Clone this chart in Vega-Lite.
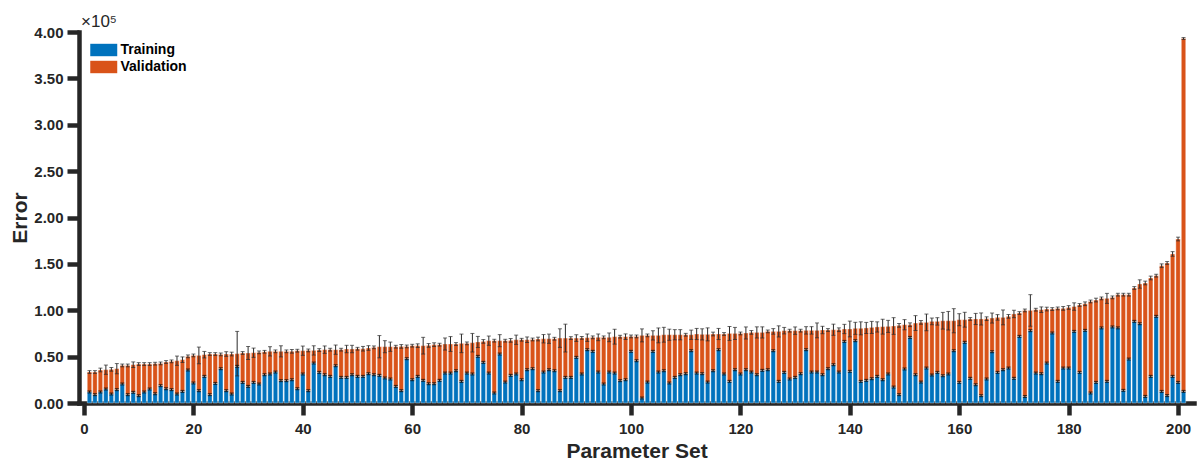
{
"$schema": "https://vega.github.io/schema/vega-lite/v6.json",
"width": 1115, "height": 371,
"autosize": {"type": "none"},
"padding": {"left": 79, "top": 32, "right": 4, "bottom": 61},
"background": "white",
"title": {"text": "×10⁵", "anchor": "start", "frame": "group", "font": "Liberation Sans", "fontSize": 17, "fontWeight": "normal", "color": "#262626", "offset": -6, "dx": 2},
"config": {
  "view": {"stroke": null},
  "axis": {"grid": false, "domainColor": "#262626", "domainWidth": 4.5, "domainCap": "square", "tickColor": "#262626", "tickWidth": 4.5, "tickSize": 12, "labelFont": "Liberation Sans", "labelFontSize": 15, "labelFontWeight": "bold", "labelColor": "#262626", "titleFont": "Liberation Sans", "titleFontSize": 21, "titleFontWeight": "bold", "titleColor": "#262626"},
  "axisX": {"labelPadding": 6, "titlePadding": 4},
  "axisY": {"labelPadding": 4, "titlePadding": 3}
},
"data": {"values": [
{"set":1,"train":11900,"total":33400,"trainErr":1000,"totalErr":1500},
{"set":2,"train":9000,"total":33400,"trainErr":1000,"totalErr":1500},
{"set":3,"train":11900,"total":35600,"trainErr":1000,"totalErr":2000},
{"set":4,"train":15100,"total":35900,"trainErr":1000,"totalErr":5000},
{"set":5,"train":9700,"total":36300,"trainErr":1000,"totalErr":2000},
{"set":6,"train":14400,"total":37000,"trainErr":1000,"totalErr":5500},
{"set":7,"train":20500,"total":40500,"trainErr":1000,"totalErr":1500},
{"set":8,"train":9000,"total":40500,"trainErr":1000,"totalErr":1500},
{"set":9,"train":11500,"total":41300,"trainErr":1000,"totalErr":3000},
{"set":10,"train":7900,"total":42000,"trainErr":1000,"totalErr":1500},
{"set":11,"train":11900,"total":42000,"trainErr":1000,"totalErr":1500},
{"set":12,"train":15100,"total":42000,"trainErr":1000,"totalErr":1500},
{"set":13,"train":10000,"total":42400,"trainErr":1000,"totalErr":1500},
{"set":14,"train":18700,"total":42700,"trainErr":1000,"totalErr":1500},
{"set":15,"train":15400,"total":44200,"trainErr":1000,"totalErr":1500},
{"set":16,"train":14400,"total":44900,"trainErr":1000,"totalErr":1500},
{"set":17,"train":9700,"total":45600,"trainErr":1000,"totalErr":5000},
{"set":18,"train":12500,"total":46700,"trainErr":1000,"totalErr":3000},
{"set":19,"train":35600,"total":50300,"trainErr":1000,"totalErr":1500},
{"set":20,"train":21600,"total":51300,"trainErr":1000,"totalErr":1500},
{"set":21,"train":13300,"total":51300,"trainErr":1000,"totalErr":9000},
{"set":22,"train":28700,"total":52100,"trainErr":1000,"totalErr":3500},
{"set":23,"train":9000,"total":52800,"trainErr":1000,"totalErr":1500},
{"set":24,"train":21100,"total":52800,"trainErr":1000,"totalErr":1500},
{"set":25,"train":37000,"total":52400,"trainErr":1000,"totalErr":1500},
{"set":26,"train":13300,"total":52800,"trainErr":1000,"totalErr":2500},
{"set":27,"train":9700,"total":52800,"trainErr":1000,"totalErr":2000},
{"set":28,"train":39500,"total":53200,"trainErr":1000,"totalErr":24000},
{"set":29,"train":22200,"total":53900,"trainErr":1000,"totalErr":1500},
{"set":30,"train":17900,"total":53900,"trainErr":1000,"totalErr":7000},
{"set":31,"train":22200,"total":54200,"trainErr":1000,"totalErr":5000},
{"set":32,"train":20500,"total":54600,"trainErr":1000,"totalErr":1500},
{"set":33,"train":30500,"total":55200,"trainErr":1000,"totalErr":1500},
{"set":34,"train":31300,"total":55700,"trainErr":1000,"totalErr":5000},
{"set":35,"train":33400,"total":55700,"trainErr":1000,"totalErr":1500},
{"set":36,"train":24100,"total":55700,"trainErr":1000,"totalErr":6000},
{"set":37,"train":24100,"total":55700,"trainErr":1000,"totalErr":1500},
{"set":38,"train":25100,"total":55700,"trainErr":1000,"totalErr":2000},
{"set":39,"train":15400,"total":56400,"trainErr":1000,"totalErr":1500},
{"set":40,"train":31300,"total":56400,"trainErr":1000,"totalErr":5000},
{"set":41,"train":13300,"total":56700,"trainErr":1000,"totalErr":1500},
{"set":42,"train":43100,"total":56700,"trainErr":1000,"totalErr":5000},
{"set":43,"train":33000,"total":57100,"trainErr":1000,"totalErr":1500},
{"set":44,"train":30500,"total":57500,"trainErr":1000,"totalErr":4000},
{"set":45,"train":28700,"total":57500,"trainErr":1000,"totalErr":1500},
{"set":46,"train":40200,"total":57500,"trainErr":1000,"totalErr":5000},
{"set":47,"train":27600,"total":57500,"trainErr":1000,"totalErr":1500},
{"set":48,"train":27600,"total":58200,"trainErr":1000,"totalErr":4000},
{"set":49,"train":30500,"total":58200,"trainErr":1000,"totalErr":4000},
{"set":50,"train":28700,"total":58500,"trainErr":1000,"totalErr":1500},
{"set":51,"train":28700,"total":58500,"trainErr":1000,"totalErr":2500},
{"set":52,"train":31600,"total":59300,"trainErr":1000,"totalErr":2500},
{"set":53,"train":30500,"total":60000,"trainErr":1000,"totalErr":1500},
{"set":54,"train":29800,"total":60700,"trainErr":1000,"totalErr":12000},
{"set":55,"train":27000,"total":60700,"trainErr":1000,"totalErr":6500},
{"set":56,"train":25900,"total":60700,"trainErr":1000,"totalErr":5000},
{"set":57,"train":17900,"total":60700,"trainErr":1000,"totalErr":1500},
{"set":58,"train":13300,"total":61000,"trainErr":1000,"totalErr":2000},
{"set":59,"train":47800,"total":61000,"trainErr":1000,"totalErr":1500},
{"set":60,"train":25100,"total":61800,"trainErr":1000,"totalErr":1500},
{"set":61,"train":28700,"total":61800,"trainErr":1000,"totalErr":2000},
{"set":62,"train":24400,"total":61800,"trainErr":1000,"totalErr":9000},
{"set":63,"train":20800,"total":62100,"trainErr":1000,"totalErr":2000},
{"set":64,"train":20800,"total":62900,"trainErr":1000,"totalErr":2000},
{"set":65,"train":24400,"total":62900,"trainErr":1000,"totalErr":1500},
{"set":66,"train":32300,"total":63600,"trainErr":1000,"totalErr":6500},
{"set":67,"train":32300,"total":63600,"trainErr":1000,"totalErr":8000},
{"set":68,"train":34800,"total":63600,"trainErr":1000,"totalErr":1500},
{"set":69,"train":23300,"total":64300,"trainErr":1000,"totalErr":10000},
{"set":70,"train":32300,"total":64300,"trainErr":1000,"totalErr":1500},
{"set":71,"train":31300,"total":65000,"trainErr":1000,"totalErr":10000},
{"set":72,"train":50300,"total":65800,"trainErr":1000,"totalErr":6000},
{"set":73,"train":43800,"total":66400,"trainErr":1000,"totalErr":2000},
{"set":74,"train":32300,"total":67200,"trainErr":1000,"totalErr":5000},
{"set":75,"train":10800,"total":67200,"trainErr":1000,"totalErr":1500},
{"set":76,"train":52800,"total":67200,"trainErr":1000,"totalErr":6500},
{"set":77,"train":22600,"total":67200,"trainErr":1000,"totalErr":1500},
{"set":78,"train":29800,"total":67500,"trainErr":1000,"totalErr":2000},
{"set":79,"train":31300,"total":68200,"trainErr":1000,"totalErr":5000},
{"set":80,"train":25100,"total":68200,"trainErr":1000,"totalErr":1500},
{"set":81,"train":35900,"total":68200,"trainErr":1000,"totalErr":3000},
{"set":82,"train":37000,"total":68500,"trainErr":1000,"totalErr":1500},
{"set":83,"train":13300,"total":69000,"trainErr":1000,"totalErr":2000},
{"set":84,"train":33400,"total":69300,"trainErr":1000,"totalErr":4500},
{"set":85,"train":35900,"total":69300,"trainErr":1000,"totalErr":5000},
{"set":86,"train":34800,"total":69300,"trainErr":1000,"totalErr":1500},
{"set":87,"train":13300,"total":70000,"trainErr":1000,"totalErr":10000},
{"set":88,"train":27600,"total":70000,"trainErr":1000,"totalErr":15000},
{"set":89,"train":27600,"total":70000,"trainErr":1000,"totalErr":1500},
{"set":90,"train":49200,"total":70000,"trainErr":1000,"totalErr":3600},
{"set":91,"train":31300,"total":70200,"trainErr":1000,"totalErr":1500},
{"set":92,"train":57500,"total":70400,"trainErr":1000,"totalErr":4000},
{"set":93,"train":55700,"total":70800,"trainErr":1000,"totalErr":1500},
{"set":94,"train":33400,"total":70800,"trainErr":1000,"totalErr":3600},
{"set":95,"train":20500,"total":70800,"trainErr":1000,"totalErr":1500},
{"set":96,"train":33400,"total":70800,"trainErr":1000,"totalErr":4700},
{"set":97,"train":32300,"total":71500,"trainErr":1000,"totalErr":8000},
{"set":98,"train":24100,"total":71500,"trainErr":1000,"totalErr":1500},
{"set":99,"train":25100,"total":71500,"trainErr":1000,"totalErr":3000},
{"set":100,"train":55700,"total":71800,"trainErr":1000,"totalErr":1500},
{"set":101,"train":45600,"total":71800,"trainErr":1000,"totalErr":1500},
{"set":102,"train":5400,"total":72900,"trainErr":1000,"totalErr":7000},
{"set":103,"train":22600,"total":72900,"trainErr":1000,"totalErr":1500},
{"set":104,"train":55700,"total":72900,"trainErr":1000,"totalErr":5000},
{"set":105,"train":33400,"total":72900,"trainErr":1000,"totalErr":8000},
{"set":106,"train":34800,"total":73600,"trainErr":1000,"totalErr":8000},
{"set":107,"train":21600,"total":73600,"trainErr":1000,"totalErr":6000},
{"set":108,"train":27600,"total":73600,"trainErr":1000,"totalErr":5500},
{"set":109,"train":30500,"total":73600,"trainErr":1000,"totalErr":5500},
{"set":110,"train":31600,"total":73600,"trainErr":1000,"totalErr":1500},
{"set":111,"train":56400,"total":73600,"trainErr":1000,"totalErr":5000},
{"set":112,"train":32300,"total":74400,"trainErr":1000,"totalErr":6000},
{"set":113,"train":31600,"total":74000,"trainErr":1000,"totalErr":6000},
{"set":114,"train":22600,"total":74000,"trainErr":1000,"totalErr":7000},
{"set":115,"train":34800,"total":74400,"trainErr":1000,"totalErr":2000},
{"set":116,"train":57500,"total":74400,"trainErr":1000,"totalErr":6000},
{"set":117,"train":31300,"total":74400,"trainErr":1000,"totalErr":1500},
{"set":118,"train":23300,"total":75000,"trainErr":1000,"totalErr":7500},
{"set":119,"train":35900,"total":75000,"trainErr":1000,"totalErr":6500},
{"set":120,"train":31300,"total":75000,"trainErr":1000,"totalErr":1500},
{"set":121,"train":35900,"total":75500,"trainErr":1000,"totalErr":6500},
{"set":122,"train":33400,"total":76100,"trainErr":1000,"totalErr":2000},
{"set":123,"train":30500,"total":76100,"trainErr":1000,"totalErr":6000},
{"set":124,"train":35200,"total":76100,"trainErr":1000,"totalErr":6000},
{"set":125,"train":35900,"total":77200,"trainErr":1000,"totalErr":1500},
{"set":126,"train":56400,"total":77200,"trainErr":1000,"totalErr":3000},
{"set":127,"train":23300,"total":77200,"trainErr":1000,"totalErr":6000},
{"set":128,"train":33000,"total":78000,"trainErr":1000,"totalErr":3500},
{"set":129,"train":25900,"total":78000,"trainErr":1000,"totalErr":1500},
{"set":130,"train":27600,"total":78000,"trainErr":1000,"totalErr":4000},
{"set":131,"train":31600,"total":78000,"trainErr":1000,"totalErr":1500},
{"set":132,"train":57500,"total":78300,"trainErr":1000,"totalErr":4000},
{"set":133,"train":33400,"total":78300,"trainErr":1000,"totalErr":4000},
{"set":134,"train":33400,"total":78300,"trainErr":1000,"totalErr":8000},
{"set":135,"train":30500,"total":78700,"trainErr":1000,"totalErr":4000},
{"set":136,"train":37000,"total":78700,"trainErr":1000,"totalErr":1500},
{"set":137,"train":41300,"total":79000,"trainErr":1000,"totalErr":6000},
{"set":138,"train":33400,"total":79000,"trainErr":1000,"totalErr":2000},
{"set":139,"train":66400,"total":79800,"trainErr":1000,"totalErr":5000},
{"set":140,"train":34100,"total":79800,"trainErr":1000,"totalErr":8500},
{"set":141,"train":67200,"total":80500,"trainErr":1000,"totalErr":6500},
{"set":142,"train":23300,"total":80500,"trainErr":1000,"totalErr":7000},
{"set":143,"train":24400,"total":80900,"trainErr":1000,"totalErr":6000},
{"set":144,"train":26200,"total":81500,"trainErr":1000,"totalErr":6500},
{"set":145,"train":28700,"total":82000,"trainErr":1000,"totalErr":5500},
{"set":146,"train":25100,"total":82300,"trainErr":1000,"totalErr":8000},
{"set":147,"train":31300,"total":82600,"trainErr":1000,"totalErr":6500},
{"set":148,"train":17200,"total":83000,"trainErr":1000,"totalErr":9000},
{"set":149,"train":9000,"total":83700,"trainErr":1000,"totalErr":2000},
{"set":150,"train":36700,"total":84400,"trainErr":1000,"totalErr":5500},
{"set":151,"train":70700,"total":84400,"trainErr":1000,"totalErr":2000},
{"set":152,"train":30500,"total":86200,"trainErr":1000,"totalErr":8000},
{"set":153,"train":22600,"total":86900,"trainErr":1000,"totalErr":2000},
{"set":154,"train":37700,"total":86900,"trainErr":1000,"totalErr":9000},
{"set":155,"train":30200,"total":88000,"trainErr":1000,"totalErr":3600},
{"set":156,"train":33000,"total":88000,"trainErr":1000,"totalErr":4000},
{"set":157,"train":29400,"total":88700,"trainErr":1000,"totalErr":9000},
{"set":158,"train":31300,"total":88700,"trainErr":1000,"totalErr":10000},
{"set":159,"train":56400,"total":88700,"trainErr":1000,"totalErr":13000},
{"set":160,"train":22200,"total":89800,"trainErr":1000,"totalErr":6500},
{"set":161,"train":65400,"total":89800,"trainErr":1000,"totalErr":8000},
{"set":162,"train":26600,"total":90600,"trainErr":1000,"totalErr":1500},
{"set":163,"train":19700,"total":90600,"trainErr":1000,"totalErr":6000},
{"set":164,"train":7900,"total":90600,"trainErr":1000,"totalErr":6500},
{"set":165,"train":25900,"total":90900,"trainErr":1000,"totalErr":2000},
{"set":166,"train":55300,"total":91600,"trainErr":1000,"totalErr":5400},
{"set":167,"train":33000,"total":92300,"trainErr":1000,"totalErr":3000},
{"set":168,"train":35900,"total":92300,"trainErr":1000,"totalErr":8000},
{"set":169,"train":37700,"total":93400,"trainErr":1000,"totalErr":2000},
{"set":170,"train":26600,"total":96000,"trainErr":1000,"totalErr":4000},
{"set":171,"train":71800,"total":97000,"trainErr":1000,"totalErr":1500},
{"set":172,"train":7000,"total":99800,"trainErr":1000,"totalErr":1500},
{"set":173,"train":78000,"total":99800,"trainErr":1000,"totalErr":17000},
{"set":174,"train":32300,"total":100600,"trainErr":1000,"totalErr":1500},
{"set":175,"train":31600,"total":100600,"trainErr":1000,"totalErr":3000},
{"set":176,"train":43100,"total":101300,"trainErr":1000,"totalErr":2000},
{"set":177,"train":75500,"total":101300,"trainErr":1000,"totalErr":1500},
{"set":178,"train":23300,"total":102000,"trainErr":1000,"totalErr":1500},
{"set":179,"train":37700,"total":102000,"trainErr":1000,"totalErr":2000},
{"set":180,"train":37700,"total":103000,"trainErr":1000,"totalErr":2000},
{"set":181,"train":77200,"total":104000,"trainErr":1000,"totalErr":4000},
{"set":182,"train":33000,"total":105700,"trainErr":1000,"totalErr":1500},
{"set":183,"train":78300,"total":107000,"trainErr":1000,"totalErr":2000},
{"set":184,"train":10800,"total":109500,"trainErr":1000,"totalErr":1500},
{"set":185,"train":22200,"total":111000,"trainErr":1000,"totalErr":2000},
{"set":186,"train":81000,"total":112800,"trainErr":1000,"totalErr":1500},
{"set":187,"train":23300,"total":112800,"trainErr":1000,"totalErr":5400},
{"set":188,"train":82000,"total":113900,"trainErr":1000,"totalErr":1500},
{"set":189,"train":81000,"total":116800,"trainErr":1000,"totalErr":1500},
{"set":190,"train":13600,"total":116800,"trainErr":1000,"totalErr":1500},
{"set":191,"train":47400,"total":116800,"trainErr":1000,"totalErr":1500},
{"set":192,"train":88000,"total":124000,"trainErr":1000,"totalErr":1500},
{"set":193,"train":85500,"total":128300,"trainErr":1000,"totalErr":4500},
{"set":194,"train":7100,"total":129400,"trainErr":1000,"totalErr":2000},
{"set":195,"train":28700,"total":134800,"trainErr":1000,"totalErr":2000},
{"set":196,"train":93400,"total":137300,"trainErr":1000,"totalErr":1500},
{"set":197,"train":12500,"total":148000,"trainErr":1000,"totalErr":2000},
{"set":198,"train":8000,"total":151000,"trainErr":1000,"totalErr":1500},
{"set":199,"train":28700,"total":160700,"trainErr":1000,"totalErr":2500},
{"set":200,"train":22200,"total":176800,"trainErr":1000,"totalErr":2000},
{"set":201,"train":12500,"total":393000,"trainErr":1000,"totalErr":1000}
]},
"encoding": {
  "x": {"field": "set", "type": "quantitative", "title": "Parameter Set",
        "scale": {"domain": [0, 202], "nice": false, "zero": false},
        "axis": {"values": [0,20,40,60,80,100,120,140,160,180,200], "title": "Parameter Set"}}
},
"layer": [
  {"mark": {"type": "bar", "size": 4.4, "stroke": "white", "strokeWidth": 0.8, "strokeOpacity": 0.45},
   "encoding": {
     "y": {"field": "train", "type": "quantitative", "stack": null, "title": "Error",
           "scale": {"domain": [0, 400000], "nice": false},
           "axis": {"title": "Error", "values": [0,50000,100000,150000,200000,250000,300000,350000,400000], "labelExpr": "format(datum.value / 100000, '.2f')"}},
     "color": {"datum": "Training", "type": "nominal",
               "scale": {"domain": ["Training", "Validation"], "range": ["#0072BD", "#D95319"]},
               "legend": {"orient": "none", "legendX": 17.75, "legendY": 11, "title": null, "symbolType": "M-2,-0.92H2V0.92H-2Z", "symbolSize": 182, "symbolStrokeWidth": 0, "symbolOpacity": 1, "labelFont": "Liberation Sans", "labelFontSize": 14, "labelFontWeight": "bold", "labelColor": "#000000", "padding": 0, "rowPadding": 3, "labelOffset": 9.75}}
   }},
  {"mark": {"type": "bar", "size": 4.4, "stroke": "white", "strokeWidth": 0.8, "strokeOpacity": 0.45},
   "encoding": {
     "y": {"field": "train", "type": "quantitative", "title": "Error"},
     "y2": {"field": "total"},
     "color": {"datum": "Validation", "type": "nominal"}
   }},
  {"mark": {"type": "errorbar", "color": "#2a2a2a", "thickness": 1, "ticks": {"size": 4, "thickness": 1}},
   "encoding": {
     "y": {"field": "total", "type": "quantitative", "title": "Error"},
     "yError": {"field": "totalErr"}
   }},
  {"mark": {"type": "errorbar", "color": "#111111", "thickness": 1, "ticks": {"size": 4, "thickness": 1.2}},
   "encoding": {
     "y": {"field": "train", "type": "quantitative", "title": "Error"},
     "yError": {"field": "trainErr"}
   }}
]
}
